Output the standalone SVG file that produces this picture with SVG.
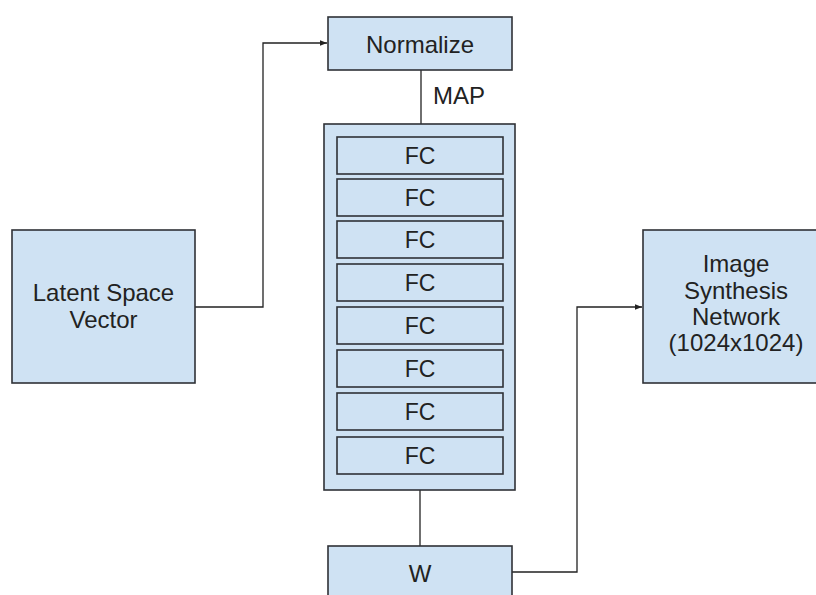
<svg xmlns="http://www.w3.org/2000/svg" width="816" height="595" viewBox="0 0 816 595">
<style>
.box{fill:#cfe2f3;stroke:#2f3136;stroke-width:1.6}
.t{font-family:"Liberation Sans",Arial,sans-serif;font-size:24px;fill:#222;text-anchor:middle}
.fc{font-size:23px}
.c{fill:none;stroke:#222;stroke-width:1.3}
</style>
<defs>
<marker id="ah" viewBox="0 0 10 10" refX="10" refY="5" markerWidth="7" markerHeight="7" markerUnits="userSpaceOnUse" orient="auto">
<path d="M0,1 L10,5 L0,9 z" fill="#222"/>
</marker>
</defs>
<rect width="816" height="595" fill="#fff"/>
<g id="connectors">
<path class="c" d="M195,307 H263 V43 H327" marker-end="url(#ah)"/>
<path class="c" d="M421,70 V124"/>
<path class="c" d="M420,490 V546"/>
<path class="c" d="M512,572 H577 V307 H642" marker-end="url(#ah)"/>
</g>
<g id="latent">
<rect class="box" x="12" y="230" width="183" height="153"/>
<text class="t" x="103.5" y="301">Latent Space</text>
<text class="t" x="103.5" y="327.5">Vector</text>
</g>
<g id="normalize">
<rect class="box" x="328" y="17" width="184" height="53"/>
<text class="t" x="420" y="53">Normalize</text>
</g>
<g id="map-label">
<text class="t" x="433" y="104" style="text-anchor:start">MAP</text>
</g>
<g id="map">
<rect class="box" x="324" y="124" width="191" height="366"/>
<g id="fc1"><rect class="box" x="337" y="137" width="166" height="37"/><text class="t fc" x="420" y="164">FC</text></g>
<g id="fc2"><rect class="box" x="337" y="179" width="166" height="37"/><text class="t fc" x="420" y="206">FC</text></g>
<g id="fc3"><rect class="box" x="337" y="221" width="166" height="37"/><text class="t fc" x="420" y="248">FC</text></g>
<g id="fc4"><rect class="box" x="337" y="264" width="166" height="37"/><text class="t fc" x="420" y="291">FC</text></g>
<g id="fc5"><rect class="box" x="337" y="307" width="166" height="37"/><text class="t fc" x="420" y="334">FC</text></g>
<g id="fc6"><rect class="box" x="337" y="350" width="166" height="37"/><text class="t fc" x="420" y="377">FC</text></g>
<g id="fc7"><rect class="box" x="337" y="393" width="166" height="37"/><text class="t fc" x="420" y="420">FC</text></g>
<g id="fc8"><rect class="box" x="337" y="437" width="166" height="37"/><text class="t fc" x="420" y="464">FC</text></g>
</g>
<g id="w">
<rect class="box" x="328" y="546" width="184" height="60"/>
<text class="t" x="420" y="581.5">W</text>
</g>
<g id="synthesis">
<rect class="box" x="643" y="230" width="190" height="153"/>
<text class="t" x="736" y="272">Image</text>
<text class="t" x="736" y="298.5">Synthesis</text>
<text class="t" x="736" y="324.5">Network</text>
<text class="t" x="736" y="350.5">(1024x1024)</text>
</g>
</svg>
